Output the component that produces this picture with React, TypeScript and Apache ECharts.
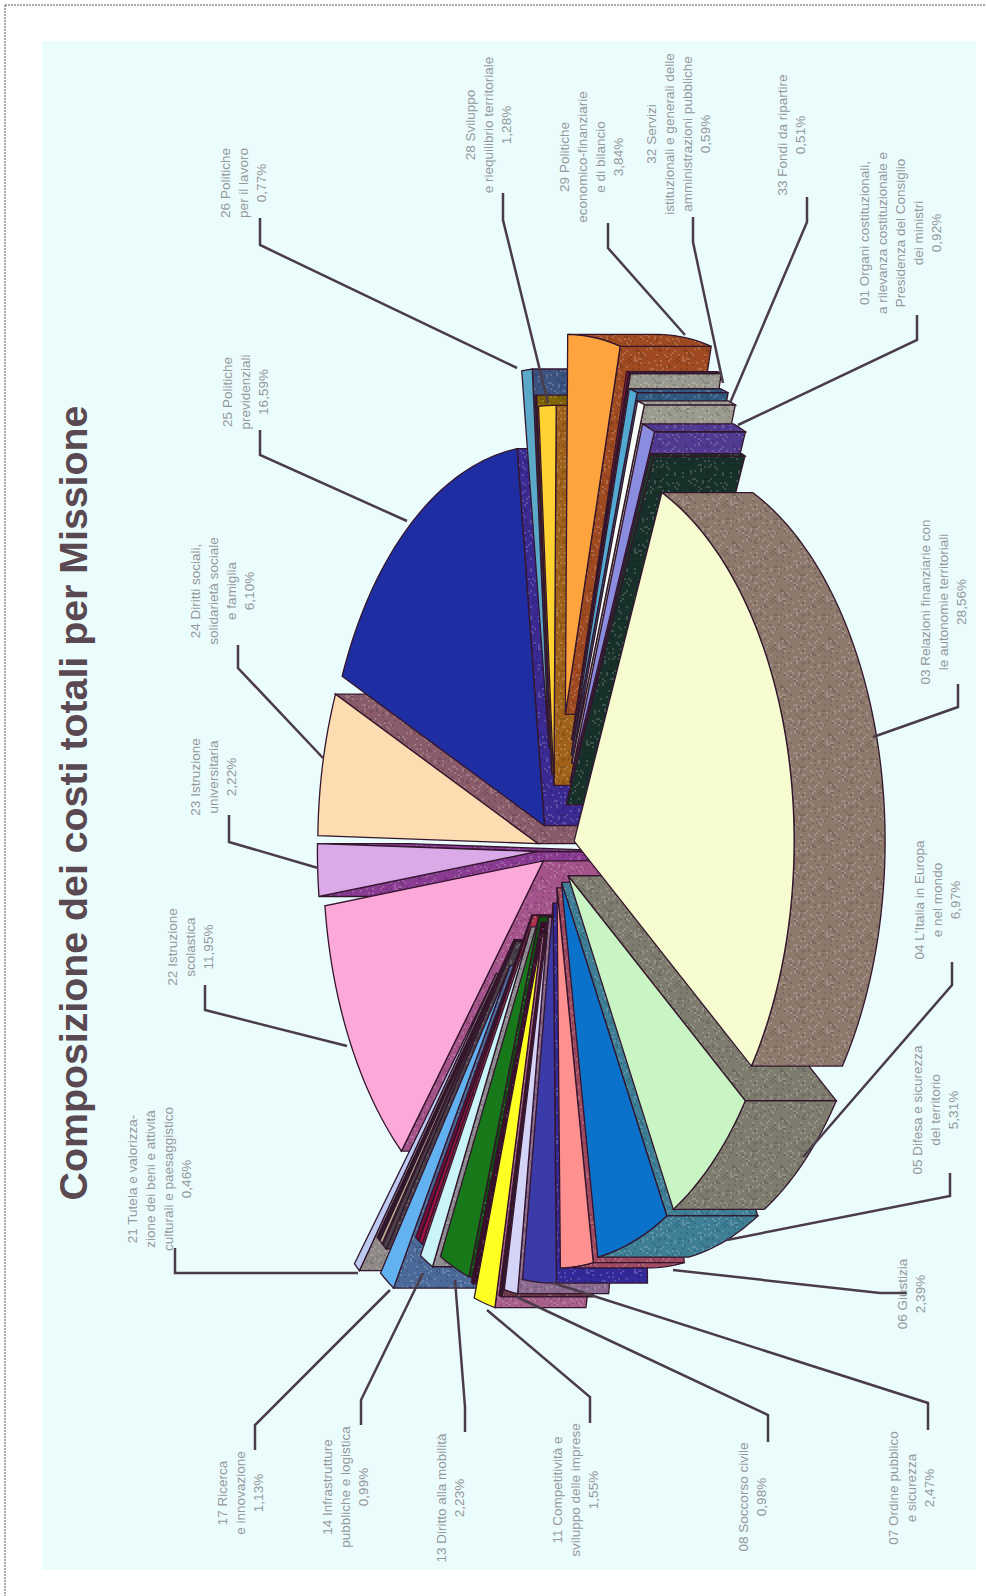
import React, { useEffect, useRef } from "react";
import * as echarts from "echarts";

const missions = ["03","04","05","06","07","08","09","10","11","12","13","14","15","16","17","18","19","20","21","22","23","24","25","26","27","28","29","30","31","32","33","01","02"];
const shares = [28.56,6.97,5.31,2.39,2.47,0.98,0.1,0.1,1.55,0.2,2.23,0.99,0.25,0.25,1.13,0.3,0.2,0.2,0.46,11.95,2.22,6.1,16.59,0.77,0.1,1.28,3.84,0.15,0.1,0.59,0.51,0.92,0.25];
const explode = [0.09,0.09,0.09,0.1,0.14,0.18,0.2,0.2,0.235,0.2,0.19,0.23,0.2,0.2,0.367,0.3,0.3,0.3,0.42,0.06,0.08,0.08,0.08,0.27,0.2,0.17,0.36,0.3,0.3,0.26,0.24,0.19,0.13];
const faceColors = ["#f7fbd0","#c9f5c4","#0b72cc","#ff9090","#3a3aa8","#d4d4f8","#5a2a3a","#3a1020","#ffff24","#3a0c28","#17791a","#c9f4f8","#a51040","#7a0a3a","#62b2f2","#4a4048","#b5ad90","#2a1a2a","#bccaf2","#fca9d9","#d9a9e8","#fcdcb0","#1f2da2","#5ba9c9","#a2c23e","#ffd232","#ffa33f","#a02030","#8a2a2a","#52a9d2","#f8fff6","#8a8cdf","#1a3a28"];
const wallColors = ["#8d7a6d","#7e7c6f","#3e7f96","#a04a62","#33299a","#8a6a8e","#6a3a4a","#3a1020","#a8608a","#3a0c28","#0f500f","#8d8d92","#a83048","#7a0a3a","#4b6a9a","#4a4048","#8a8678","#2a1a2a","#8f8a88","#a4548a","#8a3c92","#8a5c6a","#3a2a92","#3c5280","#806400","#a0621a","#a04a22","#a83040","#9a9a90","#305a82","#9a9a8f","#503a92","#17302a"];

const titleText = "Composizione dei costi totali per Missione";
const labelNames: Record<string, string[]> = {
  "01": ["01 Organi costituzionali,", "a rilevanza costituzionale e", "Presidenza del Consiglio", "dei ministri"],
  "03": ["03 Relazioni finanziarie con", "le autonomie territoriali"],
  "04": ["04 L'Italia in Europa", "e nel mondo"],
  "05": ["05 Difesa e sicurezza", "del territorio"],
  "06": ["06 Giustizia"],
  "07": ["07 Ordine pubblico", "e sicurezza"],
  "08": ["08 Soccorso civile"],
  "11": ["11 Competitività e", "sviluppo delle imprese"],
  "13": ["13 Diritto alla mobilità"],
  "14": ["14 Infrastrutture", "pubbliche e logistica"],
  "17": ["17 Ricerca", "e innovazione"],
  "21": ["21 Tutela e valorizza-", "zione dei beni e attività", "culturali e paesaggistico"],
  "22": ["22 Istruzione", "scolastica"],
  "23": ["23 Istruzione", "universitaria"],
  "24": ["24 Diritti sociali,", "solidarietà sociale", "e famiglia"],
  "25": ["25 Politiche", "previdenziali"],
  "26": ["26 Politiche", "per il lavoro"],
  "28": ["28 Sviluppo", "e riequilibrio territoriale"],
  "29": ["29 Politiche", "economico-finanziarie", "e di bilancio"],
  "32": ["32 Servizi", "istituzionali e generali delle", "amministrazioni pubbliche"],
  "33": ["33 Fondi da ripartire"],
};
const labelCentres: Record<string, number[]> = {
  "01": [900,233],"03": [943,602],"04": [937,900],"05": [935,1110],"06": [911,1294],"07": [911,1488],"08": [752,1497],
  "11": [575,1490],"13": [450,1498],"14": [345,1487],"17": [240,1493],"21": [159,1179],"22": [190,947],"23": [213,777],
  "24": [222,591],"25": [245,392],"26": [243,183],"28": [488,125],"29": [591,157],"32": [678,134],"33": [791,135],
};
const leaders: Record<string, number[][]> = {
  "01": [[917,315],[917,340],[738,425]],"03": [[958,684],[958,707],[873,737]],"04": [[952,962],[952,985],[803,1157]],
  "05": [[950,1173],[950,1196],[727,1240]],"06": [[907,1293],[880,1293],[673,1270]],"07": [[928,1430],[928,1403],[553,1283]],
  "08": [[768,1442],[768,1415],[517,1297]],"11": [[590,1423],[590,1397],[487,1310]],"13": [[465,1432],[465,1407],[455,1280]],
  "14": [[361,1425],[361,1400],[423,1273]],"17": [[255,1450],[255,1425],[390,1290]],"21": [[175,1248],[175,1273],[358,1273]],
  "22": [[205,985],[205,1010],[347,1046]],"23": [[229,815],[229,842],[318,868]],"24": [[238,645],[238,668],[323,758]],
  "25": [[260,430],[260,455],[407,521]],"26": [[260,218],[260,245],[517,368]],"28": [[503,193],[503,220],[548,403]],
  "29": [[608,223],[608,248],[685,335]],"32": [[693,217],[693,242],[723,383]],"33": [[807,197],[807,222],[730,403]],
};

const CX = 555, CY = 850, RX = 220, RY = 380, DEPTH = 91, START = -66.5;
const rad = (d: number) => (d * Math.PI) / 180;
const total = shares.reduce((a, b) => a + b, 0);

const slices = (() => {
  let a = START;
  return shares.map((v, i) => {
    const from = a;
    const to = a + (v / total) * 360;
    a = to;
    return { i, from, to, mid: (from + to) / 2 };
  });
})();
const paintOrder = [...slices].sort((p, q) => Math.cos(rad(p.mid)) - Math.cos(rad(q.mid)));

// The scanned walls have a speckled print texture: a fixed tile, no randomness.
const wallPatterns: Record<string, any> = {};
function speckle(color: string) {
  if (wallPatterns[color]) return wallPatterns[color];
  const size = 48;
  const c = document.createElement("canvas");
  c.width = size;
  c.height = size;
  const g = c.getContext("2d")!;
  g.fillStyle = color;
  g.fillRect(0, 0, size, size);
  for (let y = 0; y < size; y += 2) {
    for (let x = 0; x < size; x += 2) {
      const h = Math.abs(Math.sin(x * 12.9898 + y * 78.233) * 43758.5453) % 1;
      if (h > 0.84) {
        g.fillStyle = "rgba(255,255,255,0.16)";
        g.fillRect(x, y, 2, 2);
      } else if (h < 0.14) {
        g.fillStyle = "rgba(0,0,0,0.12)";
        g.fillRect(x, y, 2, 2);
      }
    }
  }
  wallPatterns[color] = { image: c, repeat: "repeat", imageWidth: size, imageHeight: size };
  return wallPatterns[color];
}

function renderSlice(params: any) {
  const s = paintOrder[params.dataIndex];
  const e = explode[s.i];
  const ax = CX + e * RX * Math.cos(rad(s.mid));
  const ay = CY + e * RY * Math.sin(rad(s.mid));
  const pt = (deg: number) => [ax + RX * Math.cos(rad(deg)), ay + RY * Math.sin(rad(deg))];
  const arc: number[][] = [];
  const wallArc: number[][] = [];
  const steps = Math.max(2, Math.ceil((s.to - s.from) / 1.5));
  for (let k = 0; k <= steps; k++) {
    const d = s.from + ((s.to - s.from) * k) / steps;
    arc.push(pt(d));
    if (Math.cos(rad(d)) >= -0.001) wallArc.push(pt(d));
  }
  const shift = (p: number[]) => [p[0] + DEPTH, p[1]];
  const apex = [ax, ay];
  const first = arc[0];
  const last = arc[arc.length - 1];
  const outline = { stroke: "#33162c", lineWidth: 1.3 };
  const wall = { fill: speckle(wallColors[s.i]), ...outline };
  const face = { fill: faceColors[s.i], ...outline };
  const children: any[] = [];
  if (Math.sin(rad(s.from)) > 0) {
    children.push({ type: "polygon", shape: { points: [apex, first, shift(first), shift(apex)] }, style: wall });
  }
  if (Math.sin(rad(s.to)) < 0) {
    children.push({ type: "polygon", shape: { points: [apex, last, shift(last), shift(apex)] }, style: wall });
  }
  if (wallArc.length > 1) {
    children.push({ type: "polygon", shape: { points: [...wallArc, ...wallArc.map(shift).reverse()] }, style: wall });
  }
  children.push({ type: "polygon", shape: { points: [apex, ...arc] }, style: face });
  return { type: "group", children };
}

function labelText(code: string) {
  const v = shares[missions.indexOf(code)];
  return [...labelNames[code], v.toFixed(2).replace(".", ",") + "%"].join("\n");
}

export default function App() {
  const ref = useRef<HTMLDivElement>(null);
  useEffect(() => {
    document.body.style.margin = "0";
    const chart = echarts.init(ref.current!, null, { renderer: "svg" });
    const elements: any[] = [
      { type: "rect", z: 0, shape: { x: 42, y: 41, width: 934, height: 1529 }, style: { fill: "#ebfcfd" } },
      { type: "line", z: 0, shape: { x1: 5, y1: 5, x2: 986, y2: 5 }, style: { stroke: "#555", lineWidth: 1, lineDash: [2, 1] } },
      { type: "line", z: 0, shape: { x1: 5, y1: 5, x2: 5, y2: 1596 }, style: { stroke: "#555", lineWidth: 1, lineDash: [2, 1] } },
      {
        type: "text", z: 10, x: 73, y: 803, rotation: Math.PI / 2,
        style: { text: titleText, fill: "#5a4950", fontFamily: "Liberation Sans", fontSize: 39.3, fontWeight: "bold", align: "center", verticalAlign: "middle", textAlign: "center", textVerticalAlign: "middle" },
      },
    ];
    Object.keys(leaders).forEach((code) => {
      elements.push({ type: "polyline", z: 10, shape: { points: leaders[code] }, style: { stroke: "#4a3c48", lineWidth: 2.5, fill: "none" } });
    });
    Object.keys(labelNames).forEach((code) => {
      const [x, y] = labelCentres[code];
      elements.push({
        type: "text", z: 10, x, y, rotation: Math.PI / 2,
        style: { text: labelText(code), fill: "#94989b", fontFamily: "Liberation Sans", fontSize: 13.5, lineHeight: 18, align: "center", verticalAlign: "middle", textAlign: "center", textVerticalAlign: "middle" },
      });
    });
    chart.setOption({
      animation: false,
      backgroundColor: "#ffffff",
      graphic: { elements },
      series: [
        {
          type: "custom",
          coordinateSystem: "none",
          silent: true,
          z: 2,
          renderItem: renderSlice,
          data: paintOrder.map((s) => [shares[s.i]]),
        },
      ],
    });
    return () => chart.dispose();
  }, []);
  return <div ref={ref} style={{ position: "absolute", left: 0, top: 0, width: 986, height: 1596 }} />;
}
